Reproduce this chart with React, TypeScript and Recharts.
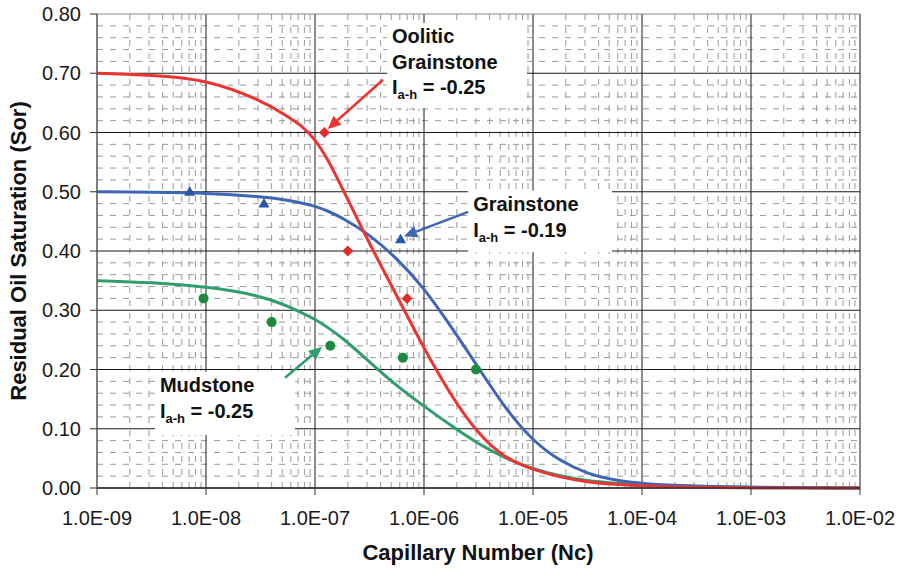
import React from "react"
import {
  ComposedChart,
  Line,
  Scatter,
  XAxis,
  YAxis,
  CartesianGrid,
  ReferenceArea,
  ReferenceLine,
} from "recharts"

const FONT = '"Liberation Sans", Arial, Helvetica, sans-serif'

// capillary numbers the fitted curves were read at
const capNumbers = [
  1e-9, 3.16e-9, 1e-8, 3.16e-8, 5.62e-8, 7.5e-8, 1e-7, 1.33e-7, 1.78e-7, 3.16e-7, 5.62e-7,
  1e-6, 1.78e-6, 3.16e-6, 5.62e-6, 1e-5, 1.78e-5, 3.16e-5, 5.62e-5, 1e-4, 3.16e-4, 1e-3, 1e-2,
]
const ooliticCurve = [
  0.7, 0.697, 0.69, 0.655, 0.627, 0.612, 0.589, 0.553, 0.506, 0.412, 0.325,
  0.235, 0.155, 0.09, 0.049, 0.031, 0.018, 0.01, 0.006, 0.003, 0.001, 0.0, 0.0,
]
const grainstoneCurve = [
  0.5, 0.499, 0.498, 0.492, 0.486, 0.481, 0.476, 0.467, 0.456, 0.428, 0.388,
  0.338, 0.272, 0.203, 0.133, 0.079, 0.045, 0.024, 0.013, 0.007, 0.003, 0.001, 0.0,
]
const mudstoneCurve = [
  0.35, 0.347, 0.34, 0.325, 0.307, 0.296, 0.285, 0.27, 0.254, 0.213, 0.172,
  0.138, 0.105, 0.074, 0.05, 0.032, 0.02, 0.012, 0.008, 0.005, 0.002, 0.001, 0.0,
]

// measured points
const ooliticNc = [1.22e-7, 2.0e-7, 7.0e-7]
const ooliticSor = [0.6, 0.4, 0.32]
const grainstoneNc = [7.1e-9, 3.4e-8, 6.1e-7]
const grainstoneSor = [0.5, 0.48, 0.42]
const mudstoneNc = [9.5e-9, 4.0e-8, 1.38e-7, 6.4e-7, 3.0e-6]
const mudstoneSor = [0.32, 0.28, 0.24, 0.22, 0.2]

const xTicks = [1e-9, 1e-8, 1e-7, 1e-6, 1e-5, 1e-4, 1e-3, 1e-2]
const yTicks = [0, 0.1, 0.2, 0.3, 0.4, 0.5, 0.6, 0.7, 0.8]

const minorX: number[] = []
for (let e = -9; e < -2; e++) {
  for (let m = 2; m <= 9; m++) minorX.push(m * Math.pow(10, e))
}
const minorY: number[] = []
for (let i = 1; i < 40; i++) {
  if (i % 5 !== 0) minorY.push(i * 0.02)
}

const RED = "#ee3333"
const BLUE = "#3e66b6"
const GREEN = "#2f9e6c"

const zip = (xs: number[], ys: number[]) => xs.map((x, i) => ({ x, y: ys[i] }))

const ooliticLine = zip(capNumbers, ooliticCurve)
const grainstoneLine = zip(capNumbers, grainstoneCurve)
const mudstoneLine = zip(capNumbers, mudstoneCurve)

function formatNc(v: number): string {
  const e = Math.round(Math.log10(v))
  return `1.0E${e < 0 ? "-" : "+"}${String(Math.abs(e)).padStart(2, "0")}`
}

// eslint-disable-next-line @typescript-eslint/no-explicit-any
const Diamond = (p: any) => {
  const { cx, cy } = p
  const r = 5.5
  return <polygon points={`${cx},${cy - r} ${cx + r},${cy} ${cx},${cy + r} ${cx - r},${cy}`} fill="#e62a2a" />
}
// eslint-disable-next-line @typescript-eslint/no-explicit-any
const Triangle = (p: any) => {
  const { cx, cy } = p
  return <polygon points={`${cx},${cy - 5.5} ${cx + 5.5},${cy + 4} ${cx - 5.5},${cy + 4}`} fill="#2a56a8" />
}
// eslint-disable-next-line @typescript-eslint/no-explicit-any
const Dot = (p: any) => <circle cx={p.cx} cy={p.cy} r={5} fill="#1d8a40" />

// eslint-disable-next-line @typescript-eslint/no-explicit-any
function Arrow(props: any) {
  const { x1, y1, x2, y2, stroke } = props
  const ang = Math.atan2(y2 - y1, x2 - x1)
  const len = 13
  const half = 6
  const bx = x2 - len * Math.cos(ang)
  const by = y2 - len * Math.sin(ang)
  const px = -Math.sin(ang) * half
  const py = Math.cos(ang) * half
  return (
    <g>
      <line x1={x1} y1={y1} x2={bx} y2={by} stroke={stroke} strokeWidth={2.5} />
      <polygon points={`${x2},${y2} ${bx + px},${by + py} ${bx - px},${by - py}`} fill={stroke} />
    </g>
  )
}

function noteBox(lines: string[], index: string) {
  // eslint-disable-next-line @typescript-eslint/no-explicit-any
  return (p: any) => {
    const { x, y, width, height } = p
    const tx = x + 5
    return (
      <g>
        <rect x={x} y={y} width={width} height={height} fill="#ffffff" />
        <text fontFamily={FONT} fontWeight="bold" fontSize={20} fill="#111">
          {lines.map((l, i) => (
            <tspan key={i} x={tx} y={y + 20.5 + i * 25.5}>
              {l}
            </tspan>
          ))}
          <tspan x={tx} y={y + 20.5 + lines.length * 25.5}>I</tspan>
          <tspan fontSize={13} dy={5}>a-h</tspan>
          <tspan dy={-5}>{` = ${index}`}</tspan>
        </text>
      </g>
    )
  }
}

export default function App() {
  const tick = { fontSize: 20, fill: "#1a1a1a", fontFamily: FONT }
  return (
    <div style={{ position: "absolute", left: 0, top: 0, width: 899, height: 572, background: "#fff" }}>
      <ComposedChart width={899} height={572} margin={{ top: 14, right: 39, bottom: 0, left: 7 }}>
        <CartesianGrid verticalValues={minorX} horizontalValues={minorY} stroke="#9a9a9a" strokeDasharray="6 7" />
        <CartesianGrid verticalValues={xTicks.slice(1)} horizontalValues={yTicks.slice(0, 8)} stroke="#1a1a1a" />
        <ReferenceLine y={0.8} stroke="#888" />
        <XAxis
          dataKey="x"
          type="number"
          scale="log"
          domain={[1e-9, 1e-2]}
          allowDataOverflow
          ticks={xTicks}
          interval={0}
          tickFormatter={formatNc}
          tick={tick}
          tickSize={7}
          tickMargin={16}
          height={84}
          axisLine={{ stroke: "#333", strokeWidth: 1.5 }}
          tickLine={{ stroke: "#333" }}
        />
        <YAxis
          type="number"
          domain={[0, 0.8]}
          ticks={yTicks}
          interval={0}
          tickFormatter={(v: number) => v.toFixed(2)}
          tick={tick}
          tickSize={7}
          tickMargin={9}
          width={90}
          axisLine={{ stroke: "#555", strokeWidth: 1.5 }}
          tickLine={{ stroke: "#333" }}
        />
        <ReferenceArea x1={4.58e-7} x2={8.8e-6} y1={0.641} y2={0.785} shape={noteBox(["Oolitic", "Grainstone"], "-0.25")} />
        <ReferenceArea x1={2.54e-6} x2={5.31e-5} y1={0.398} y2={0.502} shape={noteBox(["Grainstone"], "-0.19")} />
        <ReferenceArea x1={3.4e-9} x2={6.56e-8} y1={0.0895} y2={0.196} shape={noteBox(["Mudstone"], "-0.25")} />
        <ReferenceLine segment={[{ x: 4.21e-7, y: 0.689 }, { x: 1.31e-7, y: 0.606 }]} stroke={RED} shape={Arrow} />
        <ReferenceLine segment={[{ x: 2.54e-6, y: 0.466 }, { x: 6.56e-7, y: 0.425 }]} stroke={BLUE} shape={Arrow} />
        <ReferenceLine segment={[{ x: 5.31e-8, y: 0.186 }, { x: 1.16e-7, y: 0.238 }]} stroke={GREEN} shape={Arrow} />
        <Line data={mudstoneLine} dataKey="y" type="basis" stroke={GREEN} strokeWidth={3} dot={false} isAnimationActive={false} />
        <Line data={grainstoneLine} dataKey="y" type="basis" stroke={BLUE} strokeWidth={3} dot={false} isAnimationActive={false} />
        <Line data={ooliticLine} dataKey="y" type="basis" stroke={RED} strokeWidth={3} dot={false} isAnimationActive={false} />
        <Scatter data={zip(ooliticNc, ooliticSor)} dataKey="y" shape={Diamond} isAnimationActive={false} />
        <Scatter data={zip(grainstoneNc, grainstoneSor)} dataKey="y" shape={Triangle} isAnimationActive={false} />
        <Scatter data={zip(mudstoneNc, mudstoneSor)} dataKey="y" shape={Dot} isAnimationActive={false} />
      </ComposedChart>
      <svg width={899} height={572} style={{ position: "absolute", left: 0, top: 0, pointerEvents: "none" }}>
        <text
          transform="rotate(-90)"
          x={-251}
          y={26}
          textAnchor="middle"
          fontFamily={FONT}
          fontWeight="bold"
          fontSize={22}
          fill="#111"
        >
          Residual Oil Saturation (Sor)
        </text>
        <text x={478} y={560} textAnchor="middle" fontFamily={FONT} fontWeight="bold" fontSize={22} fill="#111">
          Capillary Number (Nc)
        </text>
      </svg>
    </div>
  )
}
